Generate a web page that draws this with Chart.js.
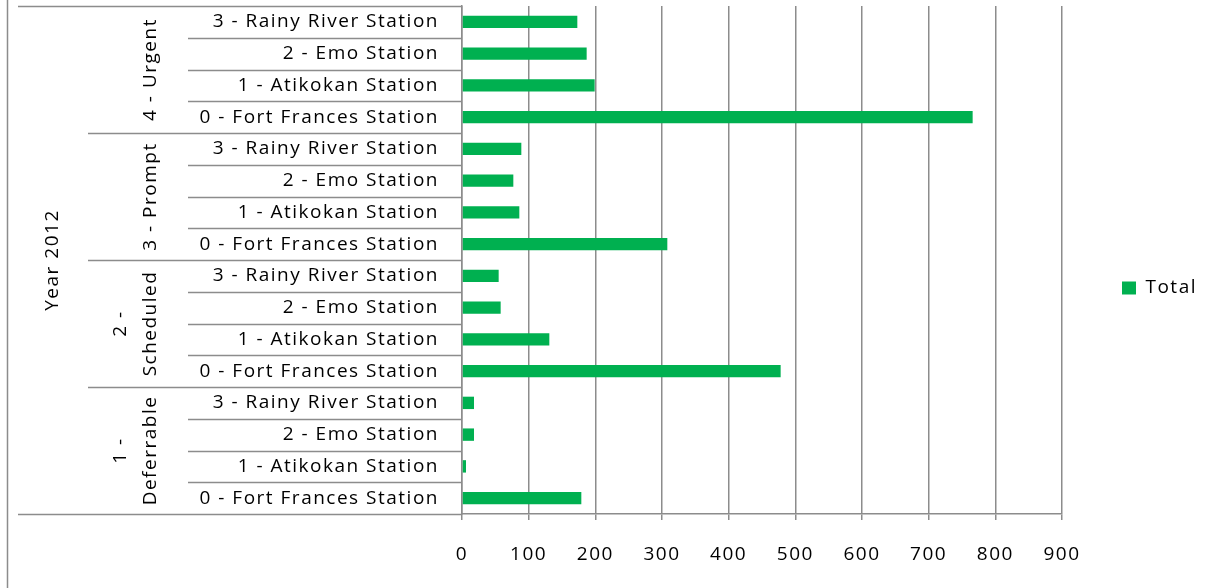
<!DOCTYPE html>
<html>
<head>
  <title>Year 2012 Totals by Priority and Station</title>
  <script src="https://cdn.jsdelivr.net/npm/chart.js"></script>
  <style>
    body { margin: 0; background: #fff; }
  </style>
</head>
<body>
  <!-- Canvas for the horizontal bar chart -->
  <canvas id="barChart" width="1215" height="588"></canvas>

  <script>
    // Category levels, top to bottom as they appear in the chart
    const yearLabel = 'Year 2012';
    const groupLines = [['4 - Urgent'], ['3 - Prompt'], ['2 -', 'Scheduled'], ['1 -', 'Deferrable']];
    const stations = ['3 - Rainy River Station', '2 - Emo Station', '1 - Atikokan Station', '0 - Fort Frances Station'];

    // Values per priority group (same order as stations)
    const urgent = [173, 187, 199, 766];
    const prompt = [89, 77, 86, 308];
    const scheduled = [55, 58, 131, 478];
    const deferrable = [18, 18, 6, 179];

    const seriesName = 'Total';
    const xMin = 0, xMax = 900, xStep = 100;

    const lineColor = '#8c8c8c';
    const fontFamily = "'Open Sans', sans-serif";
    const fontSize = 19;
    const spacing = '1.5px';

    // Flatten into the category labels and values the chart needs
    const labels = [];
    const values = [];
    [urgent, prompt, scheduled, deferrable].forEach(function(group) {
      for (let i = 0; i < stations.length; i++) {
        labels.push(stations[i]);
        values.push(group[i]);
      }
    });

    // Canvas text here is spaced out a bit, like the original
    function setSpacing(chart) {
      chart.ctx.letterSpacing = spacing;
    }

    // Draws the outer two levels of the category axis plus the separator lines
    const multiLevelAxis = {
      id: 'multiLevelAxis',
      afterInit: setSpacing,
      beforeUpdate: setSpacing,
      beforeDraw: setSpacing,
      afterLayout(chart) {
        // nudge the legend up a little, it sits slightly above centre
        if (chart.legend) {
          chart.legend.top -= 9;
          chart.legend.bottom -= 9;
        }
      },
      afterDraw(chart) {
        const ctx = chart.ctx;
        const area = chart.chartArea;
        const y = chart.scales.y;
        const step = y.getPixelForValue(1) - y.getPixelForValue(0);
        const edge = function(i) { return y.getPixelForValue(i) - step / 2; };
        const n = labels.length;

        ctx.save();
        ctx.letterSpacing = spacing;
        ctx.strokeStyle = lineColor;
        ctx.lineWidth = 1.5;

        // row separators: longer where a group or the whole year ends
        for (let i = 0; i <= n; i++) {
          const yy = Math.round(edge(i)) + 0.5;
          let x0 = 188;
          if (i === 0 || i === n) x0 = 18;
          else if (i % stations.length === 0) x0 = 88;
          ctx.beginPath();
          ctx.moveTo(x0, yy);
          ctx.lineTo(area.left, yy);
          ctx.stroke();
        }

        // left border of the chart frame
        ctx.beginPath();
        ctx.moveTo(7.5, 0);
        ctx.lineTo(7.5, chart.height);
        ctx.stroke();

        ctx.fillStyle = '#000';
        ctx.font = fontSize + 'px ' + fontFamily;
        ctx.textAlign = 'center';
        ctx.textBaseline = 'middle';

        function vertText(text, x, yy) {
          ctx.save();
          ctx.translate(x, yy);
          ctx.rotate(-Math.PI / 2);
          ctx.fillText(text, 0, 0);
          ctx.restore();
        }

        // priority groups
        groupLines.forEach(function(lines, g) {
          const mid = (edge(g * stations.length) + edge((g + 1) * stations.length)) / 2;
          lines.forEach(function(text, k) {
            const x = 151 - (lines.length - 1 - k) * 30.5;
            vertText(text, x, mid);
          });
        });

        // year
        vertText(yearLabel, 53, (edge(0) + edge(n)) / 2);
        ctx.restore();
      }
    };

    const ctx = document.getElementById('barChart').getContext('2d');

    const myChart = new Chart(ctx, {
      type: 'bar',
      data: {
        labels: labels,
        datasets: [{
          label: seriesName,
          data: values,
          backgroundColor: '#00B050',
          borderWidth: 0,
          barPercentage: 0.39,
          categoryPercentage: 1
        }]
      },
      options: {
        indexAxis: 'y',
        responsive: false,
        animation: false,
        devicePixelRatio: 1,
        layout: {
          padding: { top: 6, right: 8, bottom: 0, left: 0 }
        },
        plugins: {
          tooltip: { enabled: false },
          legend: {
            position: 'right',
            labels: {
              boxWidth: 14,
              boxHeight: 13,
              padding: 60,
              color: '#000',
              font: { family: fontFamily, size: fontSize }
            }
          }
        },
        scales: {
          x: {
            min: xMin,
            max: xMax,
            afterFit: function(scale) { scale.height = 74; },
            ticks: {
              stepSize: xStep,
              padding: 23,
              color: '#000',
              font: { family: fontFamily, size: fontSize }
            },
            grid: {
              color: lineColor,
              lineWidth: 1.5,
              tickLength: 6
            },
            border: { color: lineColor, width: 1.5 }
          },
          y: {
            afterFit: function(scale) {
              scale.width = 462;
              scale.paddingTop = 0;
              scale.paddingBottom = 0;
            },
            ticks: {
              autoSkip: false,
              padding: 23,
              color: '#000',
              font: { family: fontFamily, size: fontSize }
            },
            grid: {
              drawOnChartArea: false,
              drawTicks: false,
              color: 'transparent'
            },
            border: { color: lineColor, width: 1.5 }
          }
        }
      },
      plugins: [multiLevelAxis]
    });
  </script>
</body>
</html>
